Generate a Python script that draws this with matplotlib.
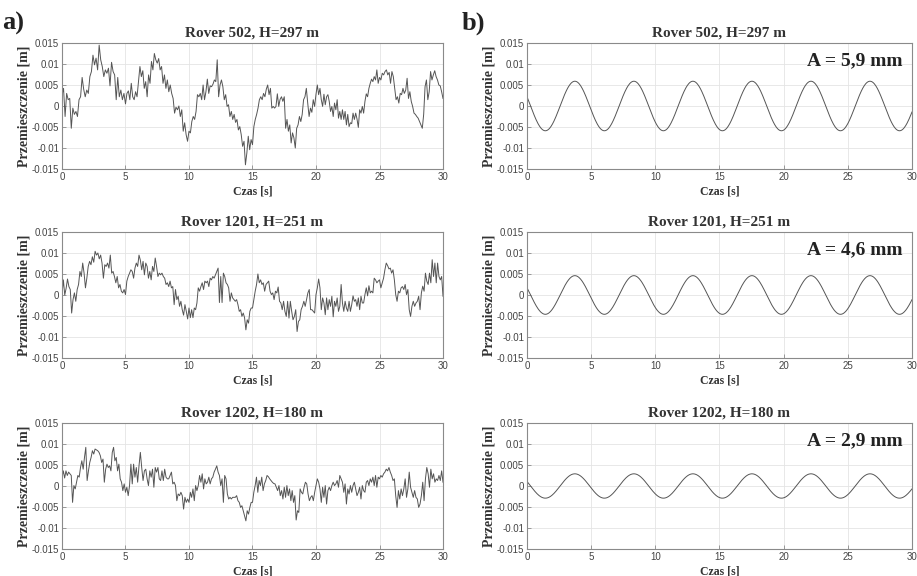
import numpy as np
import matplotlib
matplotlib.use("Agg")
import matplotlib.pyplot as plt

titles = ["Rover 502, H=297 m", "Rover 1201, H=251 m", "Rover 1202, H=180 m"]

# measured displacement [mm], one list per 5 s window (0-5, 5-10, ..., 25-30 s)
disp_502 = [
    [2.6, 4.2, -2.5, 3, 1.5, 1.8, -5.3, -0.5, -2, -1.3, -2.5, 1.5, 2.2, 6.8, 4, 2.2, 3.8, 3, 7, 8.2,
     12.1, 9.8, 11.4, 8.6, 14.5, 11, 9.4, 7, 8.6, 7.8, 9, 4.8, 10.4, 8.2, 7.4, 1.5, 6.8, 2.2, 3.8, 1.5, 3],
    [0.5, 3, 3.6, 1.5, 5.4, 2.2, 1.5, 3.4, 2.2, 5.8, 9.4, 7, 8.4, 4.2, 5.8, 2.2, 7.4, 5.4, 10.6, 8.6,
     12.5, 11, 10.2, 11.3, 8.6, 9.4, 5.4, 7.4, 4.2, 6.2, 3.4, 5, 3, 1.8, -1.7, -0.3, -0.9, 0, -2.5, -0.9,
     -6, -4, -6.8, -8.4],
    [-6, -6.4, -3.7, -2.5, -3.2, -1.3, 2.7, 2.2, 3, 1.5, 5, 1.5, 3.4, 6.4, 3, 4.8, 4.6, 5.2, 6.2, 5.8,
     11, 2.2, 5, 6.2, 4.6, 1.5, 2.7, -0.1, 0.3, -2.5, -1.3, -3.2, -2, -3.9, -3.2, -5.7, -4.9, -6.8, -9.6,
     -8.4, -14, -11.2, -7.2, -10.4, -8],
    [-9.2, -4.9, -3.2, -2, -0.5, 1.5, 2.2, 1.5, 3, 2.2, 4, 5, 2.7, 4.2, -0.5, -0.1, -0.5, -0.1, 2.9, -0.1,
     1.6, 2.2, 1.1, 2.2, -5.3, -3.2, -6, -4.5, -8.8, -6.4, -7.6, -10, -5.3, -4.5, -2.5, -3.7, -2, 1.5,
     2.2, 4.2, 0.7, -2.5, -0.5, -1.5, 1.5, -0.1],
    [2.8, 5, 2.7, 4.2, 1.5, -0.1, 2.8, 0.3, 2.2, 2.7, 1.1, -1.3, -0.1, -2.5, 0.7, -0.9, 1.5, -2.9, -1.3,
     -3.2, -0.9, -3.2, -1.3, -4.5, -2, -4.9, -4, -4.2, -1.7, -3.2, -1.7, -3.1, -5.1, -0.9, -1.7, -0.1,
     -1.7, 1.1, 2.9, 2.2, 4.2, 5.4, 6.4, 5.8, 7, 6.2, 8.6, 5.4],
    [6.8, 6.2, 7.8, 7.4, 8.2, 8.6, 7.4, 8, 5.4, 8.2, 7, 4.2, 1.5, 2.2, 0.7, 3, 2.7, 4.2, 3, 3.8, 6.6,
     1.8, 3.4, 1.1, -0.1, -1.7, -2, -2.5, -2.9, -3.7, -4.5, -5.3, -2, 4.6, 6.2, 1.5, 3.4, 8.2, 6.2, 7.4,
     8.4, 7, 6.2, 5, 4.8, 3.4, 1.8],
]
disp_1201 = [
    [0, 3.6, 0, 1.6, 3.8, 2, 1.3, -4.3, -1.1, 0.5, -1.5, 1.3, 2.5, 5.6, 4.4, 7.6, 5.2, 1.7, 4, 6.8, 8,
     7.2, 9.1, 7.8, 10.4, 9.5, 10, 8.6, 9.5, 7.6, 4, 7.2, 6.8, 7.6, 6.4, 9.5, 5.2, 5.6, 4.4, 2.9, 4.4,
     1.7, 2.5, 0.9, 0.5, 1.3],
    [0.1, 3.3, 4.4, 5.2, 6, 5.6, 4, 6.4, 7.6, 6.8, 9.5, 8.3, 6, 8, 4.8, 7.6, 6.8, 4, 5.6, 3.6, 6.8, 5.6,
     8.8, 6.8, 4.4, 5.2, 4.8, 5.2, 4.4, 4, 2.5, 2.9, 2, 3.3, 1.7, 2, -2.3, 1.3, -1.1, -0.3, -2.7, -1.5,
     -3.5, -4.8, -2.3, -3.9, -5.7],
    [-3.1, -5.4, -3.5, -5.4, -3.1, -3.5, -1.9, 1.7, 0.9, 2, 2.9, 1.3, 3.3, 2.9, 3.3, 2, 4, 3.6, 4.4, 4,
     4.8, 5.6, 6.4, -1.8, 4.4, -1.8, 5.2, 4.4, 2.9, 2.5, 1.7, -1.5, 0.5, -0.7, -1.1, -1.5, -1.1, -2.3,
     -3.9, -3.5, -5.1, -4.3, -5.4, -8.3, -5.9, -6.7, -3.9, -3.1],
    [-3.1, -1.1, 0.9, 2.5, 5, 2.9, 3.6, 2.5, 2.9, 0.9, 2.5, 2.9, 3.3, 0.9, 0.1, 0.5, -1.1, 0.9, 0.5, 1.9,
     -1.5, -1.9, -3.5, -1.5, -3.9, -5.1, -1.5, -5.5, -1.5, -3.9, -5.9, -5.1, -3.5, -8.7, -6.3, -5.9,
     -3.5, -2.7, -1.5, -2.7, -1.1, 0.5, 1.3, -3.5, -3.5, -3.9, -4.3],
    [0.1, 1.7, 3.8, 1.7, -3.5, -0.7, -1.9, -4.7, -0.7, -3.5, -1.1, -2.7, -0.3, -5.2, -1.5, -2.7, -0.7,
     -3.9, -2.7, 2.5, -1.9, -3.9, -1.5, -3.1, -3.9, -1.5, -3.9, -2.3, -0.2, -1.5, -1.1, -2.7, -0.7,
     -3.5, -0.3, -1.9, -1.9, 0.1, 1.7, -0.2, 2.2, 0.5, 0.9, 0.5, 4, 3.6, 2.9, 3.3],
    [3.6, 1.7, 2.9, 4, 6, 7.6, 7, 6.2, 6.4, 5.2, 6, 3.6, 0.1, -1.5, 0.9, 0.5, 1.7, 2, 1.3, 2.5, 0.1,
     1.3, -3.5, -5.1, -2.7, -1.5, -2.7, -1.9, -1.5, -0.3, -3.5, 0.5, 2.1, 0.9, 5.2, 3.3, 2.5, 5.2, 2.9,
     8.4, 4.4, 7.6, 2.9, 7.6, 4.4, 3.6, 4.4, -0.3],
]
disp_1202 = [
    [2.1, 3.6, 1.9, 3.6, 2.5, 3.3, 2.9, 2.5, -3.9, 0.1, -0.7, 0.9, 2.5, 2.1, 4.4, 6, 4, 6.8, 9.2, 1.3,
     3.6, 5.6, 6.8, 8.4, 7.6, 8.8, 8.6, 8.4, 8, 7.2, 5.6, 6.4, 0.9, 4, 5.2, 4.4, 4.8, 3.6, 8, 9.2, 6,
     6.8, 3.6, 5.2, 1.7, 0.9, -1.1, 0.5],
    [-1.5, -0.3, -2.3, 0.1, 5.2, 0.5, 5.2, 2.1, 4.4, 0.9, 4.8, 8, 4.4, 1.3, 3.6, 4, 1.7, 0.1, 3.6, 2.1,
     4, -0.3, 4.4, 3.3, 4.4, 1.7, 1.3, 3.6, 1.3, 4, 2.1, 1.7, 1.7, 2.5, 3.3, 0.5, 0.9, 0.1, -3.5, -1.9,
     -2.3, -1.5, -2.3, -5.5, -2.7, -3.9, -3.1],
    [-3.9, -1.5, -2.7, -0.7, -3.5, 0.1, -1.1, 0.1, 2.5, 0.9, 2.9, -0.7, 1.7, 0.5, 0.9, 2.1, 0.5, 1.7,
     2.1, 3.3, 4, 4.8, 3.3, 2.5, 0.1, 1.7, -3.9, 2.5, 1.7, -1.9, -3.1, -2.7, -3.1, -2.7, -2.7, -2.7,
     -2.3, -3.5, -3.9, -5.1, -4.7, -5.9, -7.1, -8.3, -5.9, -6.7, -5.1, -3.9],
    [-3.9, -1.5, 0.1, 2.1, -1.5, 1.3, 0.1, 2.1, -1.1, 0.5, 1.3, 2.5, 2.2, 1.7, 1.3, 0.9, 0.6, 0.5, -0.3,
     -1.1, 0.1, -2.3, -1.1, -3.1, -0.3, -2.7, 0.1, -2.3, -0.7, -3.5, -1.1, -3.9, -2.3, -8.1, -5.9, -6.3,
     -0.7, -1.5, -1.9, -0.3, 0.9, 0.5, -1.9, -3.5, -2.7, -2.3, -3.5, -1.5],
    [0.1, 1.7, 0.9, -0.7, -3.9, -0.3, -2.7, 0.1, -4.3, -1.1, -0.3, -1.1, 0.1, 0.9, 0.1, 0.5, 1.3, -0.3,
     2.5, 1.7, 0.9, -1.5, 0.5, -4.3, -0.7, -1.9, 0.1, -1.5, 0.1, 0.9, -0.7, -2.3, -1.5, -0.3, -3.1, 0.1,
     -1.1, -1.5, 0.9, 1.3, 0.1, 1.7, 0.9, 2.1, 0.1, 2.5, -0.3, 2.1],
    [1.7, 2.5, 2.1, 2.9, 3.3, 4, 3.6, 4.4, 3.3, 2.5, 1.3, 1.7, -2.3, -5.1, -1.1, -3.1, -0.7, -2.3, -0.7,
     1.7, -2.7, -0.7, 3.3, -0.3, -1.5, -2.7, -1.1, -2.7, -3.1, -5.1, -4.3, -2.3, 0.9, -3.5, 1.7, 4.4,
     2.9, -0.3, 4, 1.7, 2.9, 0.9, 1.7, 1.3, 2.5, 1.3, 3.6, 0.9],
]

# fitted sinusoid (b): amplitude [mm], period and time of first peak [s]
amp_mm = [5.9, 4.6, 2.9]
amp_labels = ["A = 5,9 mm", "A = 4,6 mm", "A = 2,9 mm"]
period_s = 4.6
first_peak_s = 3.73

y_ticks = [-0.015, -0.01, -0.005, 0, 0.005, 0.01, 0.015]
y_tick_labels = ["-0.015", "-0.01", "-0.005", "0", "0.005", "0.01", "0.015"]
x_ticks = [0, 5, 10, 15, 20, 25, 30]

SERIF = "Liberation Serif"
SANS = "Liberation Sans"
LINE = "#555555"


def build_series(chunks):
    t, y = [], []
    for k, c in enumerate(chunks):
        last = k == len(chunks) - 1
        t.append(np.linspace(5 * k, 5 * k + 5, len(c), endpoint=last))
        y.append(np.array(c) / 1000.0)
    return np.concatenate(t), np.concatenate(y)


def style(ax, title):
    ax.set_xlim(0, 30)
    ax.set_ylim(-0.015, 0.015)
    ax.set_xticks(x_ticks)
    ax.set_yticks(y_ticks)
    ax.set_yticklabels(y_tick_labels)
    ax.grid(True, color="#e4e4e4", lw=0.6)
    ax.set_axisbelow(True)
    ax.tick_params(direction="in", length=3, width=0.6, labelsize=7,
                   colors="#8a8a8a", labelcolor="#444444", pad=2)
    ax.tick_params(axis="x", pad=2.5)
    for lab in ax.get_xticklabels() + ax.get_yticklabels():
        lab.set_family(SANS)
    for s in ax.spines.values():
        s.set_color("#8a8a8a")
        s.set_linewidth(0.8)
    ax.set_title(title, fontfamily=SERIF, fontweight="bold", fontsize=11,
                 color="#333333", pad=5)
    ax.set_xlabel("Czas [s]", fontfamily=SERIF, fontweight="bold", fontsize=8.5,
                  color="#333333", labelpad=2)
    ax.set_ylabel("Przemieszczenie [m]", fontfamily=SERIF, fontweight="bold",
                  fontsize=10, color="#333333", labelpad=1)


fig = plt.figure(figsize=(9.17, 5.76), dpi=100)
rows_bottom = [0.7066, 0.3785, 0.0469]
height = 0.21875
measured = [disp_502, disp_1201, disp_1202]

for i in range(3):
    axl = fig.add_axes([0.0676, rows_bottom[i], 0.4155, height])
    t, y = build_series(measured[i])
    axl.plot(t, y, color=LINE, lw=0.7)
    style(axl, titles[i])

    axr = fig.add_axes([0.5747, rows_bottom[i], 0.4198, height])
    tf = np.linspace(0, 30, 800)
    yf = amp_mm[i] / 1000.0 * np.cos(2 * np.pi * (tf - first_peak_s) / period_s)
    axr.plot(tf, yf, color=LINE, lw=0.7)
    style(axr, titles[i])
    axr.text(0.975, 0.93, amp_labels[i], transform=axr.transAxes, ha="right", va="top",
             fontfamily=SERIF, fontweight="bold", fontsize=14, color="#222222")

fig.text(0.002, 0.98, "a)", fontfamily=SERIF, fontweight="bold", fontsize=19,
         color="#222222", va="top")
fig.text(0.503, 0.98, "b)", fontfamily=SERIF, fontweight="bold", fontsize=19,
         color="#222222", va="top")

fig.savefig("out.png", dpi=100)
